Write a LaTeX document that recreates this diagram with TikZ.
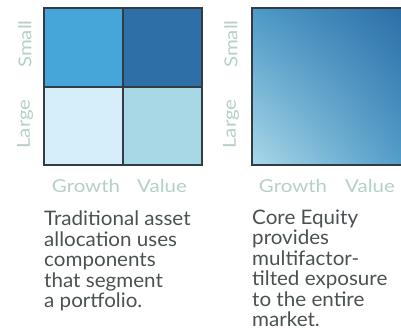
\documentclass[tikz,border=0pt]{standalone}
\usepackage{fontspec}
\setmainfont{Lato}[FakeStretch=1.03]
\newfontfamily\labfont{Lato}[FakeStretch=1.15]
\usetikzlibrary{shadings}
\definecolor{gridline}{HTML}{333C44}
\definecolor{cTL}{HTML}{46A6D9}
\definecolor{cTR}{HTML}{2E6FA8}
\definecolor{cBL}{HTML}{D6EEF9}
\definecolor{cBR}{HTML}{A8D8E6}
\definecolor{gLL}{HTML}{AAD8E8}
\definecolor{gUR}{HTML}{2A6CA6}
\definecolor{gMid}{HTML}{4D9AC7}
\definecolor{axis}{HTML}{B6CFC8}
\definecolor{body}{HTML}{4A5152}
\tikzset{
  cell/.style={draw=gridline, line width=2pt},
  axislab/.style={text=axis, font=\labfont\fontsize{17.8}{20}\selectfont, inner sep=0pt},
  bodytext/.style={text=body, font=\fontsize{20}{20.5}\selectfont, align=left, anchor=north west, inner sep=0pt}
}
\begin{document}
\begin{tikzpicture}[x=1pt,y=-1pt]
\useasboundingbox (0,0) rectangle (401,329);
% left grid
\fill[cTL] (44,8) rectangle (123,87);
\fill[cTR] (123,8) rectangle (202,87);
\fill[cBL] (44,87) rectangle (123,165);
\fill[cBR] (123,87) rectangle (202,165);
\draw[cell] (44,8) rectangle (202,165);
\draw[cell] (123,8) -- (123,165);
\draw[cell] (44,87) -- (202,87);
% right square
\begin{scope}
\clip (0,0) rectangle (401,329);
\shade[lower left=gLL, upper right=gUR, upper left=gMid, lower right=gMid] (252,8) rectangle (410,165);
\draw[cell] (252,8) rectangle (410,165);
\end{scope}
% axis labels
\node[axislab, rotate=90] (ls) at (25,44) {Small};
\node[axislab, rotate=90] (ll) at (25,124) {Large};
\node[axislab, rotate=90] (rs) at (231,44) {Small};
\node[axislab, rotate=90] (rl) at (231,124) {Large};
\node[axislab, anchor=base] (lg) at (86,192) {Growth};
\node[axislab, anchor=base] (lv) at (162,192) {Value};
\node[axislab, anchor=base] (rg) at (293,192) {Growth};
\node[axislab, anchor=base] (rv) at (370,192) {Value};
% body text
\node[bodytext] (lt) at (44,211) {Traditional asset\\allocation uses\\components\\that segment\\a portfolio.};
\node[bodytext] (rt) at (252,209.5) {Core Equity\\provides\\multifactor-\\tilted exposure\\to the entire\\market.};
\end{tikzpicture}
\end{document}
